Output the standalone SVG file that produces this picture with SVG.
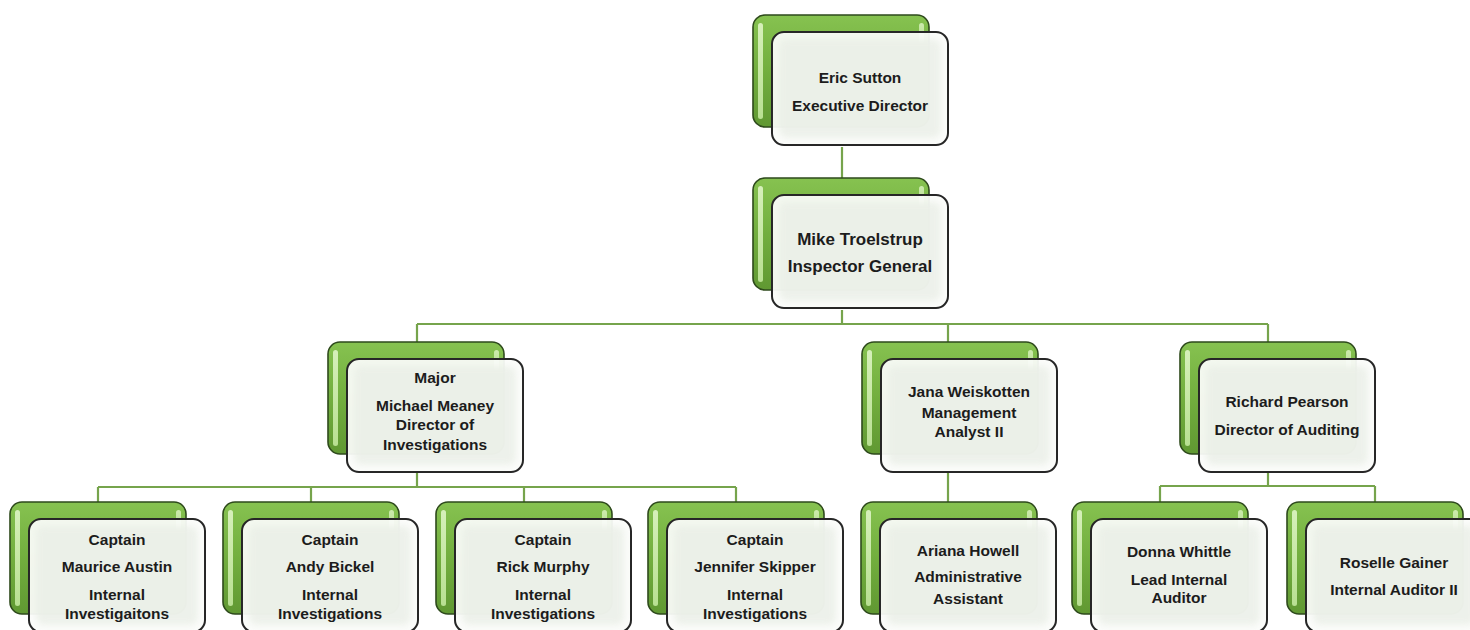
<svg xmlns="http://www.w3.org/2000/svg" width="1470" height="630" viewBox="0 0 1470 630">
<defs>
<linearGradient id="gGreen" x1="0" y1="0" x2="0" y2="1">
<stop offset="0" stop-color="#86c250"/>
<stop offset="0.5" stop-color="#72ae3e"/>
<stop offset="1" stop-color="#609832"/>
</linearGradient>
<linearGradient id="gHi" x1="0" y1="0" x2="0" y2="1">
<stop offset="0" stop-color="#dff5c6"/>
<stop offset="1" stop-color="#c2e79c"/>
</linearGradient>
<filter id="soft" x="-10%" y="-10%" width="120%" height="120%">
<feGaussianBlur stdDeviation="3"/>
</filter>
<symbol id="box" overflow="visible">
<rect x="0" y="0" width="176" height="112" rx="12" fill="url(#gGreen)" stroke="#2e4a1c" stroke-width="1.6"/>
<rect x="5" y="8" width="5" height="96" rx="2.5" fill="url(#gHi)" opacity="0.9"/>
<rect x="166" y="8" width="5" height="20" rx="2.5" fill="url(#gHi)" opacity="0.8"/>
<rect x="19" y="17" width="176" height="113" rx="12" fill="#fbfcfa" fill-opacity="0.94" stroke="#262626" stroke-width="2"/>
<rect x="26" y="24" width="162" height="99" rx="8" fill="#e9eee6" opacity="0.75" filter="url(#soft)"/>
</symbol>
</defs>
<style>
.t{font-family:"Liberation Sans",Arial,sans-serif;font-weight:bold;font-size:15.5px;fill:#1c1c1c;text-anchor:middle}
.big{font-size:17px}
.c{fill:none;stroke:#76a44c;stroke-width:2.2}
</style>
<rect width="1470" height="630" fill="#ffffff"/>
<g id="connectors">
<path class="c" d="M842 147 V178"/>
<path class="c" d="M842 310 V324 M417 324 H1268 M417 324 V342 M948 324 V342 M1268 324 V342"/>
<path class="c" d="M417 472 V487 M98 487 H736 M98 487 V502 M311 487 V502 M524 487 V502 M736 487 V502"/>
<path class="c" d="M948 472 V502"/>
<path class="c" d="M1268 472 V486 M1160 486 H1375 M1160 486 V502 M1375 486 V502"/>
</g>
<g id="n-eric" transform="translate(753,15)">
<use href="#box"/>
<text class="t" x="107" y="68">Eric Sutton</text>
<text class="t" x="107" y="96">Executive Director</text>
</g>
<g id="n-mike" transform="translate(753,178)">
<use href="#box"/>
<text class="t big" x="107" y="67">Mike Troelstrup</text>
<text class="t big" x="107" y="94">Inspector General</text>
</g>
<g id="n-major" transform="translate(328,342)">
<use href="#box"/>
<text class="t" x="107" y="41">Major</text>
<text class="t" x="107" y="69">Michael Meaney</text>
<text class="t" x="107" y="88">Director of</text>
<text class="t" x="107" y="108">Investigations</text>
</g>
<g id="n-jana" transform="translate(862,342)">
<use href="#box"/>
<text class="t" x="107" y="55">Jana Weiskotten</text>
<text class="t" x="107" y="76">Management</text>
<text class="t" x="107" y="95">Analyst II</text>
</g>
<g id="n-richard" transform="translate(1180,342)">
<use href="#box"/>
<text class="t" x="107" y="65">Richard Pearson</text>
<text class="t" x="107" y="93">Director of Auditing</text>
</g>
<g id="n-maurice" transform="translate(10,502)">
<use href="#box"/>
<text class="t" x="107" y="43">Captain</text>
<text class="t" x="107" y="70">Maurice Austin</text>
<text class="t" x="107" y="98">Internal</text>
<text class="t" x="107" y="117">Investigaitons</text>
</g>
<g id="n-andy" transform="translate(223,502)">
<use href="#box"/>
<text class="t" x="107" y="43">Captain</text>
<text class="t" x="107" y="70">Andy Bickel</text>
<text class="t" x="107" y="98">Internal</text>
<text class="t" x="107" y="117">Investigations</text>
</g>
<g id="n-rick" transform="translate(436,502)">
<use href="#box"/>
<text class="t" x="107" y="43">Captain</text>
<text class="t" x="107" y="70">Rick Murphy</text>
<text class="t" x="107" y="98">Internal</text>
<text class="t" x="107" y="117">Investigations</text>
</g>
<g id="n-jennifer" transform="translate(648,502)">
<use href="#box"/>
<text class="t" x="107" y="43">Captain</text>
<text class="t" x="107" y="70">Jennifer Skipper</text>
<text class="t" x="107" y="98">Internal</text>
<text class="t" x="107" y="117">Investigations</text>
</g>
<g id="n-ariana" transform="translate(861,502)">
<use href="#box"/>
<text class="t" x="107" y="54">Ariana Howell</text>
<text class="t" x="107" y="80">Administrative</text>
<text class="t" x="107" y="102">Assistant</text>
</g>
<g id="n-donna" transform="translate(1072,502)">
<use href="#box"/>
<text class="t" x="107" y="55">Donna Whittle</text>
<text class="t" x="107" y="83">Lead Internal</text>
<text class="t" x="107" y="101">Auditor</text>
</g>
<g id="n-roselle" transform="translate(1287,502)">
<use href="#box"/>
<text class="t" x="107" y="66">Roselle Gainer</text>
<text class="t" x="107" y="93">Internal Auditor II</text>
</g>
</svg>
